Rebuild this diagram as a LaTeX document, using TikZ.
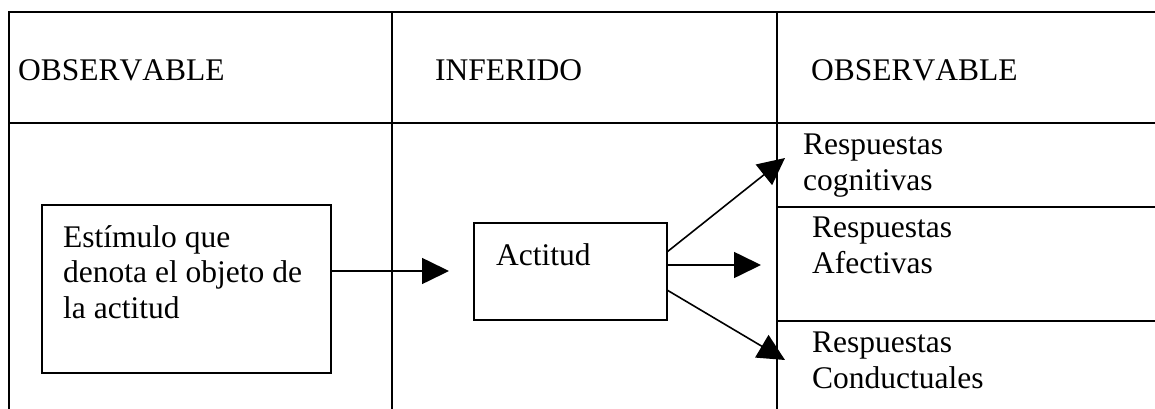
\documentclass[tikz,border=0pt]{standalone}
\usepackage{fontspec}
\setmainfont[Kerning=Off]{Liberation Serif}
\usetikzlibrary{arrows.meta}
\tikzset{
  rule/.style={line width=2pt},
  boxnode/.style={draw, line width=2pt, inner sep=0pt},
  lbl/.style={inner sep=0pt, anchor=base west, align=left, font=\fontsize{31.5}{36}\selectfont},
  conn/.style={line width=1.6pt, -{Triangle[length=27pt,width=26pt]}}
}
\begin{document}
\begin{tikzpicture}[x=1pt,y=-1pt]
\useasboundingbox (0,0) rectangle (1155,409);
% table grid
\draw[rule] (9,409) -- (9,12) -- (1160,12);
\draw[rule] (9,123) -- (1160,123);
\draw[rule] (392,12) -- (392,412);
\draw[rule] (777,12) -- (777,412);
\draw[rule] (777,207) -- (1160,207);
\draw[rule] (777,321) -- (1160,321);
% headers
\node[lbl] (h1) at (18,81) {OBSERVABLE};
\node[lbl] (h2) at (435,81) {INFERIDO};
\node[lbl] (h3) at (811,81) {OBSERVABLE};
% boxes
\node[boxnode, minimum width=289pt, minimum height=168pt] (stim) at (186.5,289) {};
\node[lbl, font=\fontsize{31.5}{35.5}\selectfont] (stimt) at (63,318) {Estímulo que\\denota el objeto de\\la actitud};
\node[boxnode, minimum width=193pt, minimum height=97pt] (act) at (570.5,271.5) {};
\node[lbl] (actt) at (496,265) {Actitud};
% responses
\node[lbl] (r1) at (803,190) {Respuestas\\cognitivas};
\node[lbl] (r2) at (812,273) {Respuestas\\Afectivas};
\node[lbl] (r3) at (812,388) {Respuestas\\Conductuales};
% connector endpoints
\coordinate (a0) at (449,271);
\coordinate (s1) at (667,252);
\coordinate (t1) at (785,158);
\coordinate (s2) at (667,265);
\coordinate (t2) at (761,265);
\coordinate (s3) at (667,290);
\coordinate (t3) at (785,360);
\draw[conn] (stim.east |- a0) -- (a0);
\draw[conn] (s1) -- (t1);
\draw[conn] (s2) -- (t2);
\draw[conn] (s3) -- (t3);
\end{tikzpicture}
\end{document}
